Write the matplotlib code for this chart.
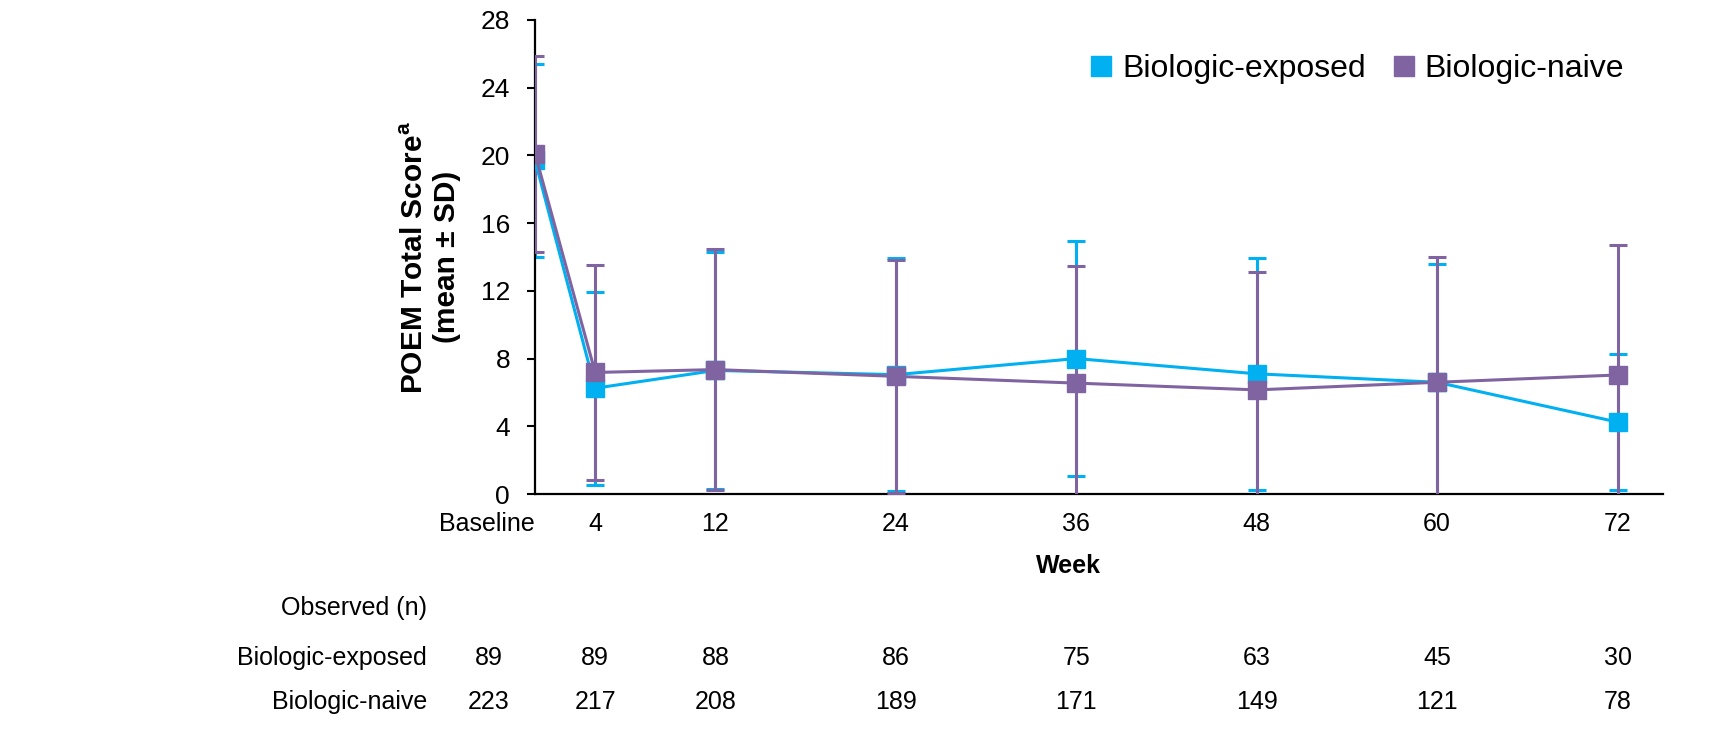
import numpy as np
import matplotlib.pyplot as plt

plt.rcParams['font.family'] = ['Liberation Sans', 'DejaVu Sans']

# Data
weeks = [0, 4, 12, 24, 36, 48, 60, 72]
week_labels = ['Baseline', '4', '12', '24', '36', '48', '60', '72']

exposed_mean = [19.7, 6.25, 7.3, 7.05, 8.0, 7.1, 6.6, 4.25]
exposed_sd = [5.7, 5.7, 7.0, 6.9, 6.95, 6.85, 7.0, 4.0]
naive_mean = [20.1, 7.18, 7.35, 6.95, 6.55, 6.15, 6.6, 7.03]
naive_sd = [5.8, 6.35, 7.1, 6.9, 6.9, 6.95, 7.4, 7.7]

exposed_n = [89, 89, 88, 86, 75, 63, 45, 30]
naive_n = [223, 217, 208, 189, 171, 149, 121, 78]

c_exp = '#00B0F0'
c_nai = '#8064A2'

fig = plt.figure(figsize=(17.31, 7.39), dpi=100)
ax = fig.add_axes([0.3091, 0.3315, 0.6514, 0.6415])

# error bars first, then lines with markers
for m, s, c, z in [(exposed_mean, exposed_sd, c_exp, 2), (naive_mean, naive_sd, c_nai, 3)]:
    ax.errorbar(weeks, m, yerr=s, fmt='none', ecolor=c, elinewidth=2.2,
                capsize=6.5, capthick=2.2, zorder=z)
ax.plot(weeks, exposed_mean, '-s', color=c_exp, lw=2.2, ms=12.5,
        label='Biologic-exposed', zorder=4)
ax.plot(weeks, naive_mean, '-s', color=c_nai, lw=2.2, ms=12.5,
        label='Biologic-naive', zorder=5)

ax.set_xlim(0, 75)
ax.set_ylim(0, 28)
ax.set_yticks(np.arange(0, 29, 4))
ax.set_xticks(weeks)
ax.set_xticklabels(week_labels)
ax.get_xticklabels()[0].set_horizontalalignment('right')
ax.tick_params(axis='y', labelsize=19, length=6, width=1.5, pad=12)
ax.tick_params(axis='x', labelsize=18, length=0, pad=13)

for side in ['top', 'right']:
    ax.spines[side].set_visible(False)
for side in ['left', 'bottom']:
    ax.spines[side].set_linewidth(1.6)

fig.text(431 / 1731, 1 - 257 / 739,
         'POEM Total Score$^{\\mathregular{a}}$\n(mean ± SD)', fontsize=21.5,
         fontweight='bold', linespacing=1.2, rotation=90, ha='center',
         va='center', multialignment='center')
fig.text(1068 / 1731, 1 - 566 / 739, 'Week', fontsize=18, fontweight='bold',
         ha='center', va='center')

handles, labels = ax.get_legend_handles_labels()
leg = ax.legend(handles, labels, loc='upper right', bbox_to_anchor=(0.966, 0.928),
                ncol=2, frameon=False, fontsize=23, handlelength=0.7,
                handletextpad=0.3, columnspacing=0.85, borderpad=0,
                borderaxespad=0)
for h in leg.legend_handles:
    h.set_linestyle('none')
    h.set_markersize(14.5)

# Observed (n) table under the axis
tr = ax.get_xaxis_transform()
row_y = [-0.24, -0.346, -0.439]
base_x = -3.1
label_x = -7.2
ax.text(label_x, row_y[0], 'Observed (n)', transform=tr, ha='right',
        va='center', fontsize=18, clip_on=False)
ax.text(label_x, row_y[1], 'Biologic-exposed', transform=tr, ha='right',
        va='center', fontsize=18, clip_on=False)
ax.text(label_x, row_y[2], 'Biologic-naive', transform=tr, ha='right',
        va='center', fontsize=18, clip_on=False)
col_x = [base_x] + weeks[1:]
for x, ne, nn in zip(col_x, exposed_n, naive_n):
    ax.text(x, row_y[1], str(ne), transform=tr, ha='center', va='center',
            fontsize=18, clip_on=False)
    ax.text(x, row_y[2], str(nn), transform=tr, ha='center', va='center',
            fontsize=18, clip_on=False)

fig.savefig('out.png', dpi=100)
